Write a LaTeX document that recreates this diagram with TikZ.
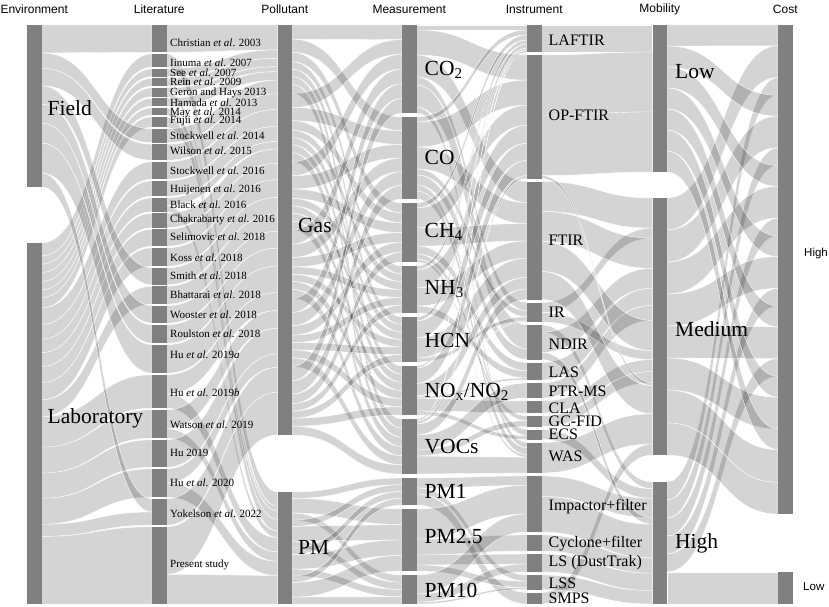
\documentclass[tikz,border=0pt]{standalone}
\usepackage{fontspec}
\setmainfont{Liberation Serif}
\newfontfamily\hdrfont{Liberation Sans}
\makeatletter
\def\barw{14.5}
\newcommand\segdef[4]{%
  \expandafter\xdef\csname sgx@#1\endcsname{#2}%
  \expandafter\xdef\csname sgt@#1\endcsname{#3}%
  \expandafter\xdef\csname sgb@#1\endcsname{#4}%
  \expandafter\xdef\csname sgo@#1\endcsname{#3}%
  \expandafter\xdef\csname sgi@#1\endcsname{#3}%
  \expandafter\xdef\csname sgTo@#1\endcsname{0}%
  \expandafter\xdef\csname sgTi@#1\endcsname{0}%
}
\newcommand\flowcount[3]{%
  \edef\fl@v{\@nameuse{sgTo@#1}}%
  \pgfmathsetmacro\fl@a{\fl@v+#3}%
  \expandafter\xdef\csname sgTo@#1\endcsname{\fl@a}%
  \edef\fl@v{\@nameuse{sgTi@#2}}%
  \pgfmathsetmacro\fl@a{\fl@v+#3}%
  \expandafter\xdef\csname sgTi@#2\endcsname{\fl@a}%
}
\newcommand\flowdraw[3]{%
  \edef\fl@xs{\@nameuse{sgx@#1}}%
  \edef\fl@ys{\@nameuse{sgo@#1}}%
  \edef\fl@ts{\@nameuse{sgt@#1}}%
  \edef\fl@bs{\@nameuse{sgb@#1}}%
  \edef\fl@Ts{\@nameuse{sgTo@#1}}%
  \pgfmathsetmacro\fl@ws{(\fl@bs-\fl@ts)/\fl@Ts*#3}%
  \pgfmathsetmacro\fl@ysb{\fl@ys+\fl@ws}%
  \expandafter\xdef\csname sgo@#1\endcsname{\fl@ysb}%
  \edef\fl@xd{\@nameuse{sgx@#2}}%
  \edef\fl@yd{\@nameuse{sgi@#2}}%
  \edef\fl@td{\@nameuse{sgt@#2}}%
  \edef\fl@bd{\@nameuse{sgb@#2}}%
  \edef\fl@Td{\@nameuse{sgTi@#2}}%
  \pgfmathsetmacro\fl@wd{(\fl@bd-\fl@td)/\fl@Td*#3}%
  \pgfmathsetmacro\fl@ydb{\fl@yd+\fl@wd}%
  \expandafter\xdef\csname sgi@#2\endcsname{\fl@ydb}%
  \pgfmathsetmacro\fl@xa{\fl@xs+\barw}%
  \pgfmathsetmacro\fl@xm{(\fl@xa+\fl@xd)/2}%
  \path[flowband] (\fl@xa,\fl@ys) .. controls (\fl@xm,\fl@ys) and (\fl@xm,\fl@yd) .. (\fl@xd,\fl@yd)
     -- (\fl@xd,\fl@ydb) .. controls (\fl@xm,\fl@ydb) and (\fl@xm,\fl@ysb) .. (\fl@xa,\fl@ysb) -- cycle;
}
\newcommand\flows[1]{%
  \foreach \fa/\fb/\fw in {#1}{\flowcount{\fa}{\fb}{\fw}}%
  \foreach \fa/\fb/\fw in {#1}{\flowdraw{\fa}{\fb}{\fw}}%
}
\newcommand\segbar[1]{%
  \edef\sb@x{\@nameuse{sgx@#1}}%
  \edef\sb@t{\@nameuse{sgt@#1}}%
  \edef\sb@b{\@nameuse{sgb@#1}}%
  \pgfmathsetmacro\sb@h{\sb@b-\sb@t}%
  \node[barnode, minimum height=\sb@h pt, anchor=north west] (#1) at (\sb@x,\sb@t) {};%
}
\makeatother
\tikzset{
  flowband/.style={fill=black, fill opacity=0.17, draw=white, line width=0.35pt},
  barnode/.style={fill=black!50, draw=none, inner sep=0pt, outer sep=0pt, minimum width=14.5pt},
  hdr/.style={font=\hdrfont\fontsize{12}{12}\selectfont, inner sep=0pt},
  biglab/.style={font=\fontsize{21.5}{21.5}\selectfont, anchor=west, inner sep=0pt},
  litlab/.style={font=\fontsize{11}{11}\selectfont, anchor=west, inner sep=0pt},
  inslab/.style={font=\fontsize{16}{16}\selectfont, anchor=west, inner sep=0pt},
  costlab/.style={font=\hdrfont\fontsize{11.5}{11.5}\selectfont, anchor=west, inner sep=0pt},
}
\begin{document}
\begin{tikzpicture}[x=1pt,y=-1pt]
\useasboundingbox (0,0) rectangle (829,607);
% ---- segments ----
\segdef{F}{27}{25}{187}
\segdef{L}{27}{243}{604}
\segdef{c1}{152}{25}{52.2}
\segdef{c2}{152}{53.8}{67.2}
\segdef{c3}{152}{68.8}{76.7}
\segdef{c4}{152}{78.3}{86.2}
\segdef{c5}{152}{87.8}{96.7}
\segdef{c6}{152}{98.3}{106.2}
\segdef{c7}{152}{107.8}{115.2}
\segdef{c8}{152}{116.8}{127.2}
\segdef{c9}{152}{128.8}{142.7}
\segdef{c10}{152}{144.3}{160.2}
\segdef{c11}{152}{161.8}{179.2}
\segdef{c12}{152}{180.8}{196.2}
\segdef{c13}{152}{197.8}{211.7}
\segdef{c14}{152}{213.3}{227.7}
\segdef{c15}{152}{229.3}{246.2}
\segdef{c16}{152}{247.8}{266.2}
\segdef{c17}{152}{267.8}{284.7}
\segdef{c18}{152}{286.3}{304.2}
\segdef{c19}{152}{305.8}{323.2}
\segdef{c20}{152}{324.8}{343.2}
\segdef{c21}{152}{344.8}{373.2}
\segdef{c22}{152}{374.8}{408.2}
\segdef{c23}{152}{409.8}{438.2}
\segdef{c24}{152}{439.8}{467.2}
\segdef{c25}{152}{468.8}{497.2}
\segdef{c26}{152}{498.8}{525.2}
\segdef{c27}{152}{526.8}{604}
\segdef{G}{277.5}{25}{435}
\segdef{P}{277.5}{492}{604}
\segdef{co2}{402}{25}{113}
\segdef{co}{402}{117}{199}
\segdef{ch4}{402}{203}{262}
\segdef{nh3}{402}{266}{313}
\segdef{hcn}{402}{317}{362}
\segdef{nox}{402}{366}{415}
\segdef{voc}{402}{419}{474}
\segdef{pm1}{402}{478}{505}
\segdef{pm25}{402}{509}{571}
\segdef{pm10}{402}{575}{604}
\segdef{laf}{527}{25}{52}
\segdef{opf}{527}{55}{178.5}
\segdef{ftir}{527}{181.5}{299.5}
\segdef{ir}{527}{302.5}{322}
\segdef{ndir}{527}{325}{359.5}
\segdef{las}{527}{362.5}{380}
\segdef{ptr}{527}{383}{398}
\segdef{cla}{527}{401}{413}
\segdef{gcf}{527}{416}{426.5}
\segdef{ecs}{527}{429.5}{439.5}
\segdef{was}{527}{442.5}{473}
\segdef{imp}{527}{476}{532}
\segdef{cyc}{527}{535}{551}
\segdef{ls}{527}{554}{572}
\segdef{lss}{527}{575}{589.5}
\segdef{smps}{527}{592.5}{604}
\segdef{lo}{652.5}{25}{172}
\segdef{me}{652.5}{198}{455}
\segdef{hi}{652.5}{482}{604}
\segdef{chi}{778}{25}{514}
\segdef{clo}{778}{572}{604}
% ---- flows ----
\flows{F/c1/28, L/c2/15, L/c3/9.5, L/c4/9.5, L/c5/10.5, L/c6/9.5, L/c7/9, L/c8/12,
  F/c9/15.5, F/c10/17.5, L/c11/19, L/c12/17, L/c13/15.5, L/c14/16, L/c15/18.5, L/c16/20,
  F/c17/18.5, L/c18/19.5, F/c19/19, F/c20/20, F/c21/30, L/c22/35, L/c23/30, L/c24/29,
  L/c25/30, F/c26/14, L/c26/14, L/c27/78}
\flows{c1/G/28, c2/P/15, c3/G/9.5, c4/G/9.5, c5/G/5.5, c5/P/5, c6/G/9.5, c7/P/9, c8/P/12,
  c9/G/15.5, c10/G/17.5, c11/G/19, c12/G/17, c13/G/8.5, c13/P/7, c14/G/16, c15/G/18.5,
  c16/G/20, c17/G/18.5, c18/G/19.5, c19/G/19, c20/G/20, c21/G/30, c22/G/20, c22/P/15,
  c23/G/20, c23/P/10, c24/G/29, c25/G/15, c25/P/15, c26/G/28, c27/G/48, c27/P/30}
\flows{G/co2/14.7, G/co/13.7, G/ch4/9.8, G/nh3/7.8, G/hcn/7.5, G/nox/8.2, G/voc/9.2,
  G/co2/14.7, G/co/13.7, G/ch4/9.8, G/nh3/7.8, G/hcn/7.5, G/nox/8.2, G/voc/9.2,
  G/co2/14.7, G/co/13.7, G/ch4/9.8, G/nh3/7.8, G/hcn/7.5, G/nox/8.2, G/voc/9.2,
  G/co2/14.7, G/co/13.7, G/ch4/9.8, G/nh3/7.8, G/hcn/7.5, G/nox/8.2, G/voc/9.2,
  G/co2/14.7, G/co/13.7, G/ch4/9.8, G/nh3/7.8, G/hcn/7.5, G/nox/8.2, G/voc/9.2,
  G/co2/14.7, G/co/13.7, G/ch4/9.8, G/nh3/7.8, G/hcn/7.5, G/nox/8.2, G/voc/9.2,
  P/pm1/6.75, P/pm25/15.5, P/pm10/7.25, P/pm1/6.75, P/pm25/15.5, P/pm10/7.25,
  P/pm1/6.75, P/pm25/15.5, P/pm10/7.25, P/pm1/6.75, P/pm25/15.5, P/pm10/7.25}
\flows{co2/laf/5, co2/opf/25, co2/ftir/22, co2/ir/8, co2/ndir/22, co2/was/6,
  co/laf/5, co/opf/25, co/ftir/22, co/ir/6, co/ndir/10, co/ecs/6, co/was/8,
  ch4/laf/5, ch4/opf/20, ch4/ftir/18, ch4/las/8, ch4/gcf/5, ch4/was/3,
  nh3/laf/4, nh3/opf/18, nh3/ftir/18, nh3/las/7,
  hcn/laf/4, hcn/opf/17, hcn/ftir/20, hcn/ir/4,
  nox/laf/2, nox/opf/15, nox/ftir/12, nox/ir/1, nox/las/2, nox/cla/12, nox/ecs/4,
  voc/laf/2, voc/opf/3, voc/ftir/11, voc/ptr/15, voc/gcf/6, voc/was/18,
  pm1/imp/10, pm1/lss/6, pm1/smps/11,
  pm25/imp/30, pm25/cyc/16, pm25/ls/10, pm25/lss/6,
  pm10/imp/19, pm10/ls/8, pm10/lss/2}
\flows{laf/lo/27, opf/lo/60, ftir/me/30, ir/me/10, ndir/hi/7, opf/lo/60, ftir/me/30,
  ndir/me/20, las/me/17, ptr/me/15, ecs/hi/10, ftir/me/30, ir/me/9, cla/me/12, gcf/me/11,
  imp/hi/20, opf/me/3, ftir/me/28, was/me/30, smps/me/11, ndir/hi/7, imp/hi/35,
  cyc/hi/16, ls/hi/18, lss/hi/14}
\flows{lo/chi/21, me/chi/32, hi/chi/18, lo/chi/21, me/chi/32, hi/chi/18, lo/chi/21,
  me/chi/32, hi/chi/18, lo/chi/21, me/chi/32, hi/chi/18, lo/chi/21, me/chi/32,
  hi/chi/18, lo/chi/21, me/chi/32, lo/chi/21, me/chi/33, me/chi/32, hi/clo/32}
% ---- bars ----
\foreach \sg in {F,L,c1,c2,c3,c4,c5,c6,c7,c8,c9,c10,c11,c12,c13,c14,c15,c16,c17,c18,c19,
  c20,c21,c22,c23,c24,c25,c26,c27,G,P,co2,co,ch4,nh3,hcn,nox,voc,pm1,pm25,pm10,
  laf,opf,ftir,ir,ndir,las,ptr,cla,gcf,ecs,was,imp,cyc,ls,lss,smps,lo,me,hi,chi,clo}
  {\segbar{\sg}}
% ---- headers ----
\node[hdr] (h1) at (34.25,9) {Environment};
\node[hdr] (h2) at (159.25,9) {Literature};
\node[hdr] (h3) at (284.75,9) {Pollutant};
\node[hdr] (h4) at (409.25,9) {Measurement};
\node[hdr] (h5) at (534.25,9) {Instrument};
\node[hdr] (h6) at (659.75,9) {Mobility};
\node[hdr] (h7) at (785.25,9) {Cost};
% ---- labels ----
\node[biglab] (tF) at (47.5,108) {Field};
\node[biglab] (tL) at (47.5,418) {Laboratory};
\node[litlab] (t1) at (170,42.7) {Christian \textit{et al}. 2003};
\node[litlab] (t2) at (170,62.5) {Iinuma \textit{et al}. 2007};
\node[litlab] (t3) at (170,72.5) {See \textit{et al}. 2007};
\node[litlab] (t4) at (170,82) {Rein \textit{et al}. 2009};
\node[litlab] (t5) at (170,92.5) {Geron and Hays 2013};
\node[litlab] (t6) at (170,103) {Hamada \textit{et al}. 2013};
\node[litlab] (t7) at (170,112.5) {May \textit{et al}. 2014};
\node[litlab] (t8) at (170,121) {Fujii \textit{et al}. 2014};
\node[litlab] (t9) at (170,136) {Stockwell \textit{et al}. 2014};
\node[litlab] (t10) at (170,151) {Wilson \textit{et al}. 2015};
\node[litlab] (t11) at (170,171) {Stockwell \textit{et al}. 2016};
\node[litlab] (t12) at (170,189.5) {Huijenen \textit{et al}. 2016};
\node[litlab] (t13) at (170,205) {Black \textit{et al}. 2016};
\node[litlab] (t14) at (170,220) {Chakrabarty \textit{et al}. 2016};
\node[litlab] (t15) at (170,237) {Selimovic \textit{et al}. 2018};
\node[litlab] (t16) at (170,257.5) {Koss \textit{et al}. 2018};
\node[litlab] (t17) at (170,276) {Smith \textit{et al}. 2018};
\node[litlab] (t18) at (170,295) {Bhattarai \textit{et al}. 2018};
\node[litlab] (t19) at (170,315) {Wooster \textit{et al}. 2018};
\node[litlab] (t20) at (170,333.5) {Roulston \textit{et al}. 2018};
\node[litlab] (t21) at (170,355) {Hu \textit{et al}. 2019\textit{a}};
\node[litlab] (t22) at (170,392.5) {Hu \textit{et al}. 2019\textit{b}};
\node[litlab] (t23) at (170,425) {Watson \textit{et al}. 2019};
\node[litlab] (t24) at (170,453) {Hu 2019};
\node[litlab] (t25) at (170,483) {Hu \textit{et al}. 2020};
\node[litlab] (t26) at (170,513.5) {Yokelson \textit{et al}. 2022};
\node[litlab] (t27) at (170,565) {Present study};
\node[biglab] (tG) at (298,225) {Gas};
\node[biglab] (tP) at (298,547) {PM};
\node[biglab] (tco2) at (424.5,70) {CO\textsubscript{2}};
\node[biglab] (tco) at (424.5,157) {CO};
\node[biglab] (tch4) at (424.5,232) {CH\textsubscript{4}};
\node[biglab] (tnh3) at (424.5,289) {NH\textsubscript{3}};
\node[biglab] (thcn) at (424.5,340) {HCN};
\node[biglab] (tnox) at (424.5,392) {NO\textsubscript{x}/NO\textsubscript{2}};
\node[biglab] (tvoc) at (424.5,447) {VOCs};
\node[biglab] (tpm1) at (424.5,491) {PM1};
\node[biglab] (tpm25) at (424.5,537) {PM2.5};
\node[biglab] (tpm10) at (424.5,590) {PM10};
\node[inslab] (tlaf) at (548.5,40) {LAFTIR};
\node[inslab] (topf) at (548.5,115) {OP-FTIR};
\node[inslab] (tftir) at (548.5,240) {FTIR};
\node[inslab] (tir) at (548.5,312) {IR};
\node[inslab] (tndir) at (548.5,344) {NDIR};
\node[inslab] (tlas) at (548.5,372) {LAS};
\node[inslab] (tptr) at (548.5,391) {PTR-MS};
\node[inslab] (tcla) at (548.5,408) {CLA};
\node[inslab] (tgcf) at (548.5,421) {GC-FID};
\node[inslab] (tecs) at (548.5,434) {ECS};
\node[inslab] (twas) at (548.5,456) {WAS};
\node[inslab] (timp) at (548.5,507) {Impactor+filter};
\node[inslab] (tcyc) at (548.5,544) {Cyclone+filter};
\node[inslab] (tls) at (548.5,563) {LS (DustTrak)};
\node[inslab] (tlss) at (548.5,583) {LSS};
\node[inslab] (tsmps) at (548.5,598) {SMPS};
\node[biglab] (tlo) at (675,72) {Low};
\node[biglab] (tme) at (675,329) {Medium};
\node[biglab] (thi) at (675,543) {High};
\node[costlab] (tchi) at (804,254) {High};
\node[costlab] (tclo) at (803,587) {Low};
\end{tikzpicture}
\end{document}
